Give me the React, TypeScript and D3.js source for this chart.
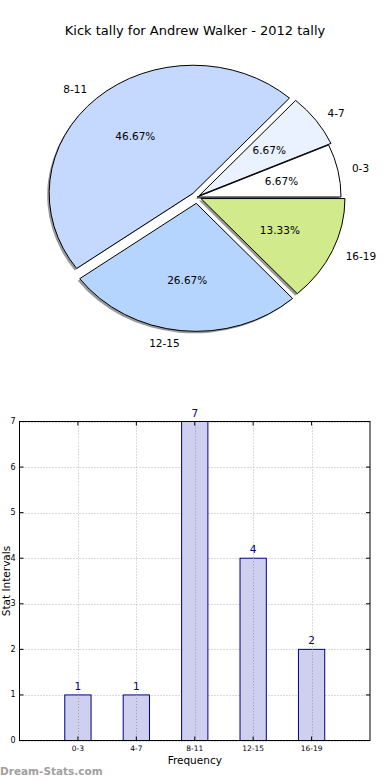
import React from "react";
import * as d3 from "d3";

// chart values
const categories = ["0-3", "4-7", "8-11", "12-15", "16-19"];
const counts = [1, 1, 7, 4, 2];
const pieColors = ["#ffffff", "#eaf1ff", "#c5d9ff", "#b5d5ff", "#d0ea8c"];
const explode = [0, 0.02, 0.04, 0.05, 0.03];
const yTicks = [0, 1, 2, 3, 4, 5, 6, 7];
const title = "Kick tally for Andrew Walker - 2012 tally";

const font = "DejaVu Sans, sans-serif";

export default function App() {
  const width = 390;
  const height = 780;

  // pie (matplotlib style: counter-clockwise from 3 o'clock, stretched to an ellipse)
  const cx = 197;
  const cy = 197;
  const rx = 144;
  const ry = 128;
  const total = d3.sum(counts);
  const pie = d3
    .pie<number>()
    .sort(null)
    .startAngle(0)
    .endAngle(2 * Math.PI)(counts);
  const arc = d3.arc<any>().innerRadius(0).outerRadius(1);

  const wedges = pie.map((p, i) => {
    const t1 = p.startAngle;
    const t2 = p.endAngle;
    const tm = (t1 + t2) / 2;
    const ux = Math.cos(tm);
    const uy = -Math.sin(tm);
    const ox = cx + explode[i] * rx * ux;
    const oy = cy + explode[i] * ry * uy;
    const path = arc({
      startAngle: Math.PI / 2 - t2,
      endAngle: Math.PI / 2 - t1,
    }) as string;
    return {
      path,
      ox,
      oy,
      color: pieColors[i],
      label: categories[i],
      pct: ((100 * counts[i]) / total).toFixed(2) + "%",
      lx: ox + 1.1 * rx * ux,
      ly: oy + 1.1 * ry * uy,
      px: ox + 0.6 * rx * ux,
      py: oy + 0.6 * ry * uy,
      anchor: ux > 0 ? "start" : "end",
    };
  });

  // bar chart
  const left = 19.5;
  const right = 370;
  const top = 421.5;
  const bottom = 740.5;
  const x = d3.scaleLinear().domain([-1, 5]).range([left, right]);
  const y = d3.scaleLinear().domain([0, 7]).range([bottom, top]);
  const barW = x(0.45) - x(0);
  const xIdx = d3.range(categories.length);

  return (
    <svg
      width={width}
      height={height}
      style={{ position: "absolute", left: 0, top: 0, background: "#fff" }}
    >
      <text
        x={195}
        y={30}
        textAnchor="middle"
        dominantBaseline="central"
        fontFamily={font}
        fontSize={13}
        fill="#000"
      >
        {title}
      </text>

      <g>
        {wedges.map((w, i) => (
          <g key={i}>
            <path
              d={w.path}
              transform={`translate(${w.ox - 2},${w.oy + 2}) scale(${rx},${ry})`}
              fill="#000"
              fillOpacity={0.4}
              stroke="none"
            />
            <path
              d={w.path}
              transform={`translate(${w.ox},${w.oy}) scale(${rx},${ry})`}
              fill={w.color}
              stroke="#000"
              strokeWidth={1}
              vectorEffect="non-scaling-stroke"
              strokeLinejoin="miter"
            />
          </g>
        ))}
        {wedges.map((w, i) => (
          <g key={"t" + i} fontFamily={font} fontSize={10.5} fill="#000">
            <text x={w.lx} y={w.ly} textAnchor={w.anchor} dominantBaseline="central">
              {w.label}
            </text>
            <text x={w.px} y={w.py} textAnchor="middle" dominantBaseline="central">
              {w.pct}
            </text>
          </g>
        ))}
      </g>

      <g>
        {yTicks.map((t) => (
          <line
            key={"gy" + t}
            x1={left}
            x2={right}
            y1={Math.round(y(t)) + 0.5}
            y2={Math.round(y(t)) + 0.5}
            stroke="#b8b8b8"
            strokeDasharray="1,2"
          />
        ))}
        {xIdx.map((i) => (
          <line
            key={"gx" + i}
            x1={Math.round(x(i)) + 0.5}
            x2={Math.round(x(i)) + 0.5}
            y1={top}
            y2={bottom}
            stroke="#b8b8b8"
            strokeDasharray="1,2"
          />
        ))}
        {counts.map((c, i) => (
          <g key={"b" + i}>
            <rect
              x={x(i) - barW / 2}
              y={y(c)}
              width={barW}
              height={bottom - y(c)}
              fill="#ccccee"
              fillOpacity={0.95}
              stroke="#000080"
              strokeWidth={1}
            />
            <line
              x1={Math.round(x(i)) + 0.5}
              x2={Math.round(x(i)) + 0.5}
              y1={y(c)}
              y2={bottom}
              stroke="#9a9ab0"
              strokeDasharray="1,2"
            />
            <text
              x={x(i)}
              y={y(c) - 9}
              textAnchor="middle"
              dominantBaseline="central"
              fontFamily={font}
              fontSize={10.5}
              fill="#00008b"
            >
              {c}
            </text>
          </g>
        ))}
        <rect
          x={left}
          y={top}
          width={right - left}
          height={bottom - top}
          fill="none"
          stroke="#000"
          strokeWidth={1}
        />
        {yTicks.map((t) => (
          <g key={"ty" + t}>
            <line x1={left} x2={left + 4} y1={y(t)} y2={y(t)} stroke="#000" />
            <line x1={right - 4} x2={right} y1={y(t)} y2={y(t)} stroke="#000" />
            <text
              x={left - 4}
              y={y(t)}
              textAnchor="end"
              dominantBaseline="central"
              fontFamily={font}
              fontSize={8}
              fill="#000"
            >
              {t}
            </text>
          </g>
        ))}
        {xIdx.map((i) => (
          <g key={"tx" + i}>
            <line x1={x(i)} x2={x(i)} y1={bottom} y2={bottom - 4} stroke="#000" />
            <line x1={x(i)} x2={x(i)} y1={top} y2={top + 4} stroke="#000" />
            <text
              x={x(i)}
              y={bottom + 8}
              textAnchor="middle"
              dominantBaseline="central"
              fontFamily={font}
              fontSize={7.5}
              fill="#000"
            >
              {categories[i]}
            </text>
          </g>
        ))}
        <text
          x={(left + right) / 2}
          y={760}
          textAnchor="middle"
          dominantBaseline="central"
          fontFamily={font}
          fontSize={10.5}
          fill="#000"
        >
          Frequency
        </text>
        <text
          transform={`translate(6,${(top + bottom) / 2}) rotate(-90)`}
          textAnchor="middle"
          dominantBaseline="central"
          fontFamily={font}
          fontSize={10.5}
          fill="#000"
        >
          Stat Intervals
        </text>
      </g>

      <text
        x={0}
        y={771}
        dominantBaseline="central"
        fontFamily={font}
        fontSize={10.5}
        fontWeight="bold"
        fill="#a0a0a0"
      >
        Dream-Stats.com
      </text>
    </svg>
  );
}
